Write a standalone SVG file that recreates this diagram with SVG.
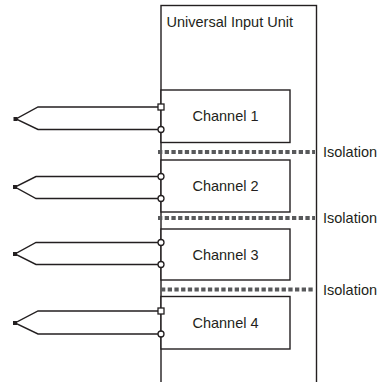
<svg xmlns="http://www.w3.org/2000/svg" width="379" height="382" viewBox="0 0 379 382">
<style>
.box{fill:#fff;stroke:#231f20;stroke-width:1.4}
.wire{fill:none;stroke:#231f20;stroke-width:1.4}
.term{fill:#fff;stroke:#231f20;stroke-width:1.3}
.tip{fill:#231f20}
.iso{fill:none;stroke:#58595b;stroke-width:4;stroke-dasharray:4.3 2.4}
.t{font-family:"Liberation Sans",Arial,sans-serif;font-size:14.5px;fill:#231f20}
.c{text-anchor:middle}
</style>
<rect width="379" height="382" fill="#fff"/>
<g id="unit">
<rect class="box" x="161" y="5.5" width="155.5" height="380"/>
<text class="t" x="166.5" y="26.5">Universal Input Unit</text>
</g>
<g id="ch1"><rect class="box" x="161" y="90" width="129" height="52.5"/><text class="t c" x="225.5" y="121">Channel 1</text></g>
<g id="ch2"><rect class="box" x="161" y="160" width="129" height="52"/><text class="t c" x="225.5" y="191">Channel 2</text></g>
<g id="ch3"><rect class="box" x="161" y="229" width="129" height="51"/><text class="t c" x="225.5" y="259.5">Channel 3</text></g>
<g id="ch4"><rect class="box" x="161" y="296.5" width="129" height="52.5"/><text class="t c" x="225.5" y="327.5">Channel 4</text></g>
<g id="isolation">
<line class="iso" x1="158" y1="152" x2="315" y2="152"/>
<line class="iso" x1="158" y1="218" x2="315" y2="218"/>
<line class="iso" x1="161" y1="289.5" x2="315" y2="289.5"/>
<text class="t" x="323" y="156.5">Isolation</text>
<text class="t" x="323" y="222.5">Isolation</text>
<text class="t" x="323" y="294.5">Isolation</text>
</g>
<g id="connectors">
<polyline class="wire" points="161,107 38,107 16,119 38,129.5 161,129.5"/>
<polyline class="wire" points="161,176.5 36,176.5 15,187 36,198.5 161,198.5"/>
<polyline class="wire" points="161,242.5 36,242.5 15,254 36,264.5 161,264.5"/>
<polyline class="wire" points="161,311 38,311 15,323 38,334 161,334"/>
<rect class="tip" x="13.5" y="117" width="4" height="4"/>
<rect class="tip" x="13" y="185" width="4" height="4"/>
<rect class="tip" x="13" y="252" width="4" height="4"/>
<rect class="tip" x="13" y="321" width="4" height="4"/>
<rect class="term" x="158" y="104" width="6" height="6"/>
<circle class="term" cx="161" cy="129.5" r="3"/>
<circle class="term" cx="161" cy="176.5" r="3"/>
<circle class="term" cx="161" cy="198.5" r="3"/>
<circle class="term" cx="161" cy="242.5" r="3"/>
<circle class="term" cx="161" cy="264.5" r="3"/>
<rect class="term" x="158" y="308" width="6" height="6"/>
<circle class="term" cx="161" cy="334" r="3"/>
</g>
</svg>
